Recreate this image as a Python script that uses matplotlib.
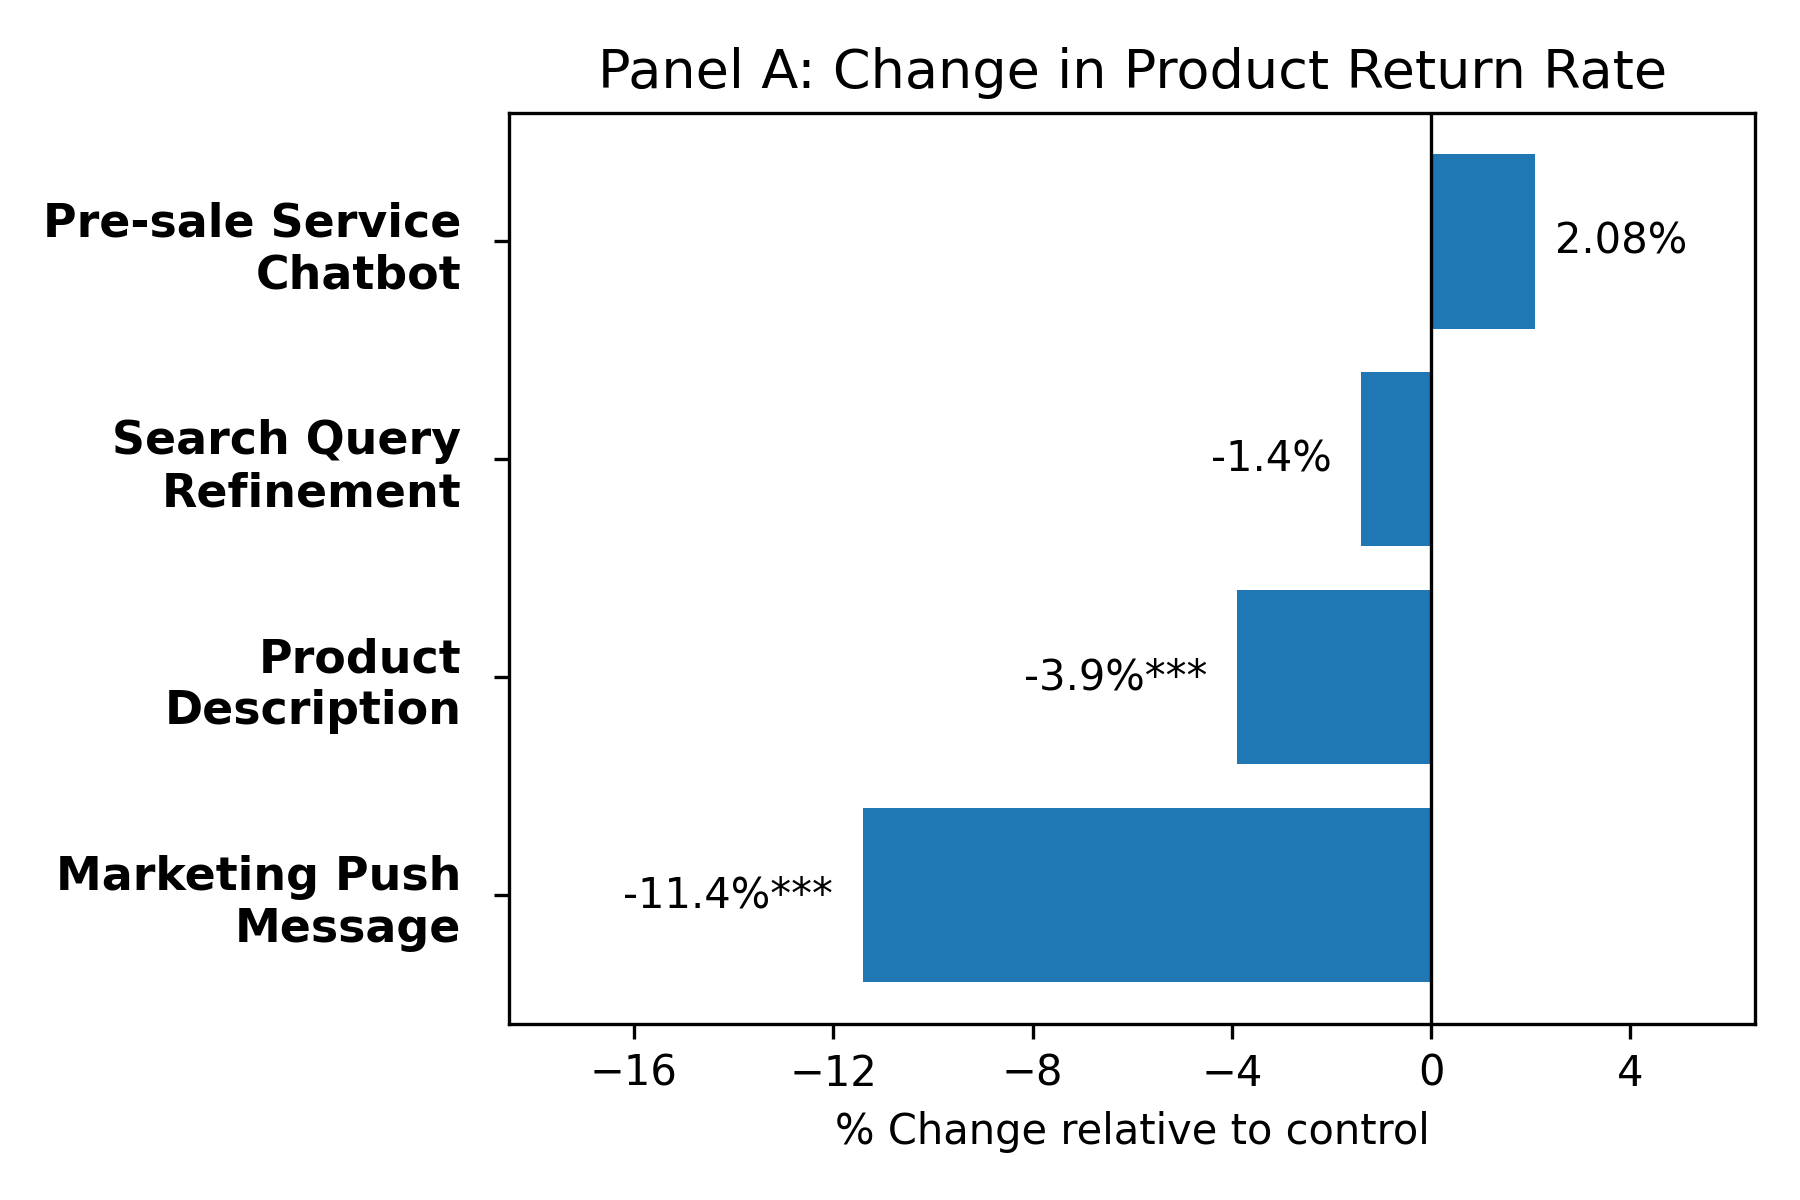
import matplotlib
matplotlib.use("Agg")
import matplotlib.pyplot as plt

categories = ["Marketing Push\nMessage", "Product\nDescription", "Search Query\nRefinement", "Pre-sale Service\nChatbot"]
values = [-11.4, -3.9, -1.4, 2.08]
labels = ["-11.4%***", "-3.9%***", "-1.4%", "2.08%"]
xticks = [-16, -12, -8, -4, 0, 4]

fig = plt.figure(figsize=(6, 4), dpi=300)
ax = fig.add_axes([0.283, 0.147, 0.692, 0.759])
ypos = list(range(len(categories)))
ax.barh(ypos, values, height=0.8, color="#1f77b4")
ax.axvline(0, color="black", linewidth=0.8)
for y, v, t in zip(ypos, values, labels):
    if v >= 0:
        ax.text(v + 0.4, y, t, ha="left", va="center", fontsize=10)
    else:
        ax.text(v - 0.6, y, t, ha="right", va="center", fontsize=10)
ax.set_yticks(ypos)
ax.set_yticklabels(categories, fontsize=11, fontweight="bold")
ax.tick_params(axis="y", pad=8)
ax.set_xticks(xticks)
ax.tick_params(axis="x", labelsize=10)
ax.set_xlim(-18.5, 6.5)
ax.set_xlabel("% Change relative to control", fontsize=10)
ax.set_title("Panel A: Change in Product Return Rate", fontsize=13)
fig.savefig("out.png", dpi=300)
